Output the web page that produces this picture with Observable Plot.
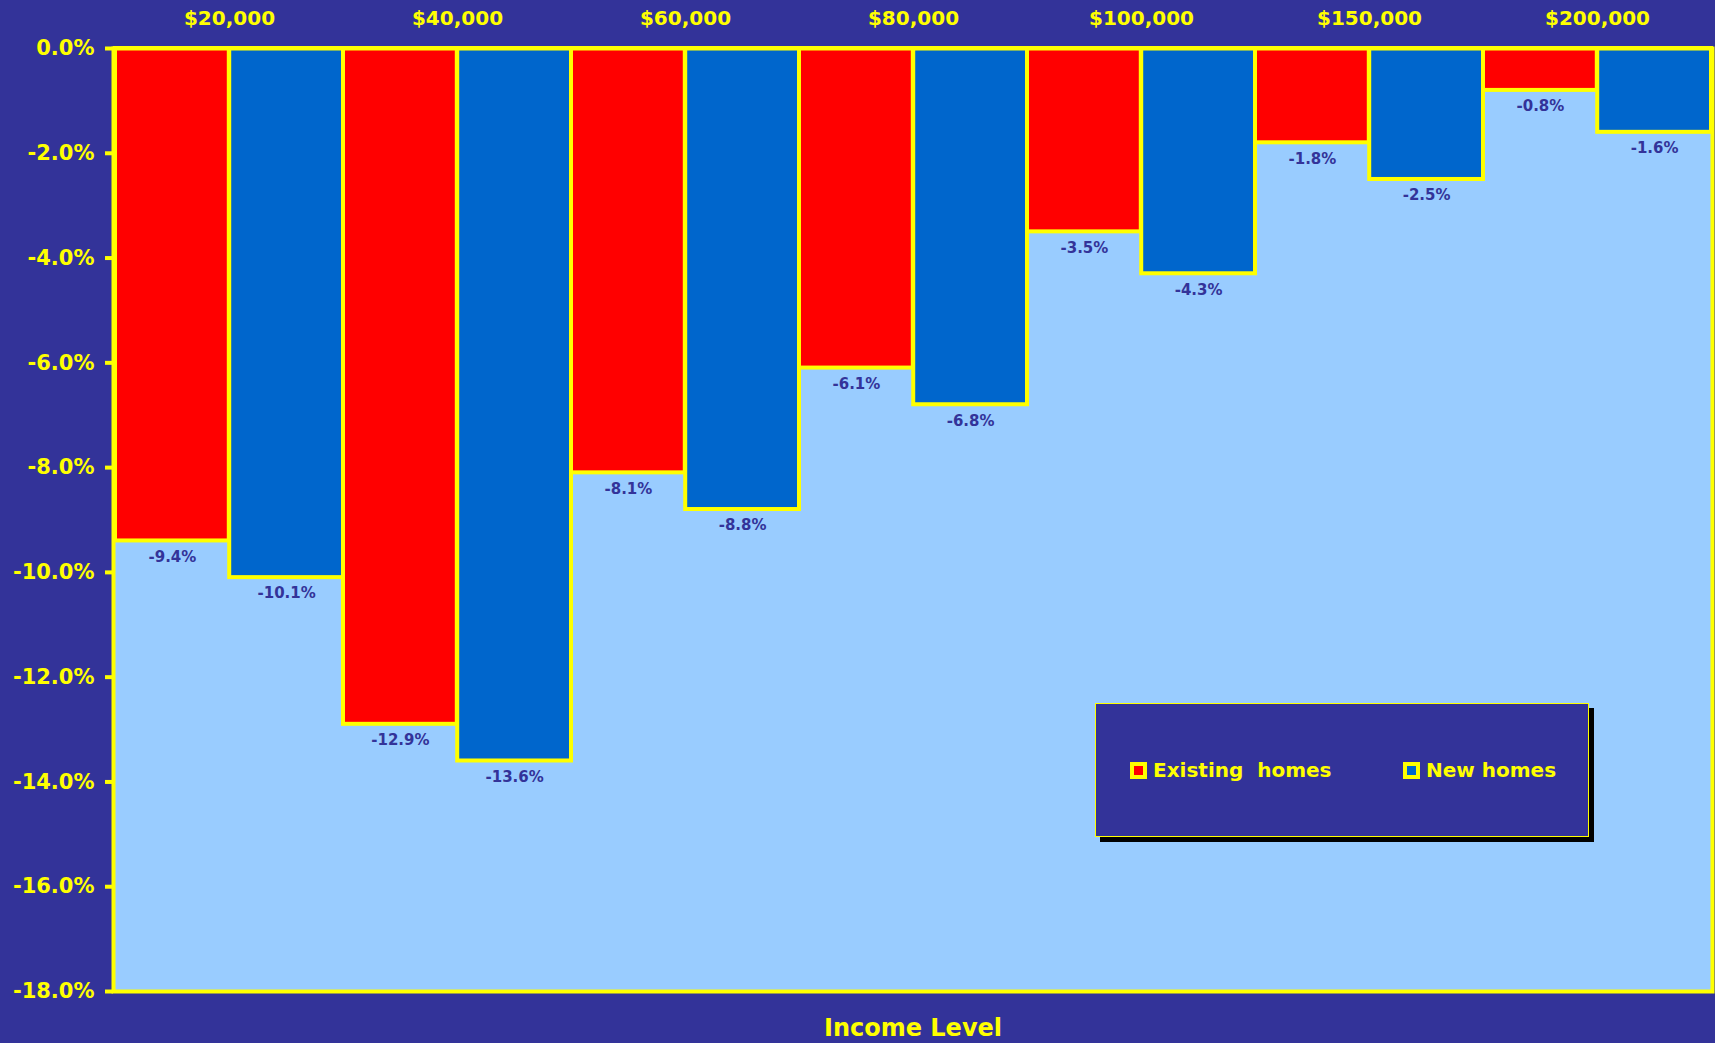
<!DOCTYPE html>
<html>
<head>
<meta charset="utf-8">
<script src="https://cdn.jsdelivr.net/npm/d3@7"></script>
<script src="https://cdn.jsdelivr.net/npm/@observablehq/plot@0.6"></script>
<style>
  html, body { margin: 0; padding: 0; background: #333399; }
  #chart { position: relative; width: 1715px; height: 1043px; font-family: "DejaVu Sans", Verdana, sans-serif; }
  #chart svg { display: block; }
  .legend {
    position: absolute; left: 1095px; top: 703px; width: 492px; height: 132px;
    background: #333399; border: 1px solid #FFFF00; box-shadow: 5px 5px 0 #000;
  }
  .legend .item {
    position: absolute; top: 50%; transform: translateY(-50%);
    display: flex; align-items: center;
    color: #FFFF00; font-weight: bold; font-size: 20px; white-space: pre;
  }
  .legend .swatch { width: 9px; height: 9px; border: 4px solid #FFFF00; margin-right: 6px; }
</style>
</head>
<body>
<div id="chart"></div>
<script>
// Income brackets (top axis) and the percentage change for each home type
const incomeLevels = ["$20,000", "$40,000", "$60,000", "$80,000", "$100,000", "$150,000", "$200,000"];
const existingHomes = [-9.4, -12.9, -8.1, -6.1, -3.5, -1.8, -0.8];
const newHomes = [-10.1, -13.6, -8.8, -6.8, -4.3, -2.5, -1.6];
const seriesNames = ["Existing  homes", "New homes"];
const seriesColors = ["#FF0000", "#0066CC"];
const yTicks = [0, -2, -4, -6, -8, -10, -12, -14, -16, -18];
const xTitle = "Income Level";

const existingRows = incomeLevels.map((income, i) => ({income, series: seriesNames[0], value: existingHomes[i]}));
const newRows = incomeLevels.map((income, i) => ({income, series: seriesNames[1], value: newHomes[i]}));

const W = 1715, H = 1043;
const mL = 113, mR = 3, mT = 48, mB = 52;
const YELLOW = "#FFFF00";
const LABEL = "#333399";
const FONT = "DejaVu Sans, Verdana, sans-serif";

// each income band holds two side-by-side bars: existing on the left half, new on the right
const half = (W - mL - mR) / incomeLevels.length / 2;
const pct = d => d.toFixed(1) + "%";

const chart = Plot.plot({
  width: W,
  height: H,
  marginLeft: mL,
  marginRight: mR,
  marginTop: mT,
  marginBottom: mB,
  style: {background: "#333399", fontFamily: FONT, overflow: "visible"},
  x: {domain: incomeLevels, padding: 0, axis: null},
  y: {domain: [-18, 0], axis: null},
  marks: [
    Plot.frame({fill: "#99CCFF"}),
    Plot.barY(existingRows, {
      x: "income", y: "value", fill: seriesColors[0],
      stroke: YELLOW, strokeWidth: 4, insetLeft: 0, insetRight: half
    }),
    Plot.barY(newRows, {
      x: "income", y: "value", fill: seriesColors[1],
      stroke: YELLOW, strokeWidth: 4, insetLeft: half, insetRight: 0
    }),
    Plot.text(existingRows, {
      x: "income", y: "value", text: d => pct(d.value), dx: -half / 2, dy: 16,
      fill: LABEL, fontSize: 15, fontWeight: "bold", lineAnchor: "middle"
    }),
    Plot.text(newRows, {
      x: "income", y: "value", text: d => pct(d.value), dx: half / 2, dy: 16,
      fill: LABEL, fontSize: 15, fontWeight: "bold", lineAnchor: "middle"
    }),
    Plot.frame({stroke: YELLOW, strokeWidth: 4}),
    Plot.axisX({
      anchor: "top", tickSize: 0, tickPadding: 24, label: null,
      fill: YELLOW, fontSize: 20, fontWeight: "bold"
    }),
    Plot.axisY({
      anchor: "left", ticks: yTicks, tickSize: 8, tickPadding: 11, label: null,
      stroke: YELLOW, strokeWidth: 4, fill: YELLOW, fontSize: 21, fontWeight: "bold",
      tickFormat: pct
    }),
    Plot.text([xTitle], {
      frameAnchor: "bottom", dy: 37, fill: YELLOW, fontSize: 24, fontWeight: "bold",
      lineAnchor: "middle"
    })
  ]
});

const root = document.getElementById("chart");
root.appendChild(chart);

// legend box drawn over the lower right of the plot area
const legend = document.createElement("div");
legend.className = "legend";
const offsets = [34, 307];
seriesNames.forEach((name, i) => {
  const item = document.createElement("div");
  item.className = "item";
  item.style.left = offsets[i] + "px";
  const sw = document.createElement("span");
  sw.className = "swatch";
  sw.style.background = seriesColors[i];
  const label = document.createElement("span");
  label.textContent = name;
  item.appendChild(sw);
  item.appendChild(label);
  legend.appendChild(item);
});
root.appendChild(legend);
</script>
</body>
</html>
